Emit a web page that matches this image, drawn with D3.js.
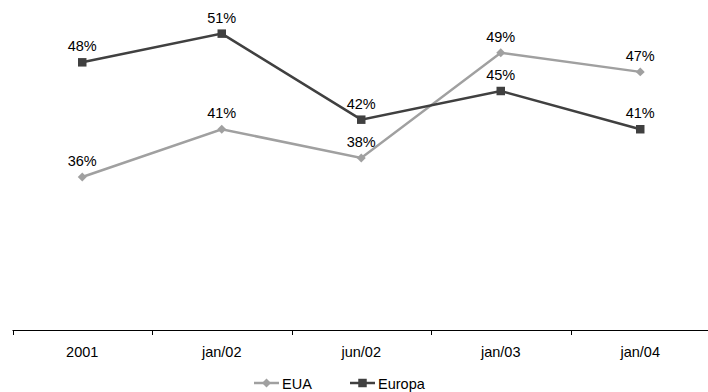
<!DOCTYPE html>
<html>
<head>
<meta charset="utf-8">
<script src="https://cdn.jsdelivr.net/npm/d3@7"></script>
<style>
  html, body { margin: 0; padding: 0; background: #fff; }
  svg { display: block; font-family: "Liberation Sans", Arial, sans-serif; }
</style>
</head>
<body>
<svg id="chart" width="708" height="392"></svg>
<script>
// Periods on the category axis
const categories = ["2001", "jan/02", "jun/02", "jan/03", "jan/04"];
// Percentages per region
const euaValues = [36, 41, 38, 49, 47];
const europaValues = [48, 51, 42, 45, 41];

const seriesNames = ["EUA", "Europa"];
const seriesColors = ["#a0a0a0", "#404040"];

const svg = d3.select("#chart");
const fontSize = 14.5;

const x = d3.scaleBand().domain(categories).range([12.5, 710]);
const y = d3.scaleLinear().domain([20, 50]).range([330, 43.2]);

// Square diamond (rotated square) marker
const diamond = {
  draw(ctx, size) {
    const r = Math.sqrt(size / 2);
    ctx.moveTo(0, -r);
    ctx.lineTo(r, 0);
    ctx.lineTo(0, r);
    ctx.lineTo(-r, 0);
    ctx.closePath();
  }
};

const series = [
  { name: seriesNames[0], values: euaValues, color: seriesColors[0], marker: diamond, size: 40 },
  { name: seriesNames[1], values: europaValues, color: seriesColors[1], marker: d3.symbolSquare, size: 72 }
];

// Category axis along the bottom, ticks between categories
const axisG = svg.append("g").attr("transform", "translate(0,330)");
axisG.append("line")
  .attr("x1", 12.5).attr("x2", 708)
  .attr("y1", 0.5).attr("y2", 0.5)
  .attr("stroke", "#000").attr("stroke-width", 1);
const bounds = categories.map(c => x(c)).concat([x(categories[categories.length - 1]) + x.bandwidth()]);
axisG.selectAll("line.tick")
  .data(bounds)
  .join("line")
  .attr("class", "tick")
  .attr("x1", d => Math.round(d) + 0.5).attr("x2", d => Math.round(d) + 0.5)
  .attr("y1", 0).attr("y2", 5)
  .attr("stroke", "#000");
axisG.selectAll("text")
  .data(categories)
  .join("text")
  .attr("x", d => x(d) + x.bandwidth() / 2)
  .attr("y", 27)
  .attr("text-anchor", "middle")
  .attr("font-size", fontSize)
  .attr("fill", "#000")
  .text(d => d);

const cx = (i) => x(categories[i]) + x.bandwidth() / 2;

const line = d3.line()
  .x((d, i) => cx(i))
  .y(d => y(d));

series.forEach(s => {
  const g = svg.append("g");
  g.append("path")
    .datum(s.values)
    .attr("d", line)
    .attr("fill", "none")
    .attr("stroke", s.color)
    .attr("stroke-width", 2.5);
  g.selectAll("path.mark")
    .data(s.values)
    .join("path")
    .attr("class", "mark")
    .attr("transform", (d, i) => `translate(${cx(i)},${y(d)})`)
    .attr("d", d3.symbol().type(s.marker).size(s.size))
    .attr("fill", s.color);
  g.selectAll("text")
    .data(s.values)
    .join("text")
    .attr("x", (d, i) => cx(i))
    .attr("y", d => y(d) - 11)
    .attr("text-anchor", "middle")
    .attr("font-size", fontSize)
    .attr("fill", "#000")
    .text(d => d + "%");
});

// Legend
const legendItems = [
  { s: series[0], x0: 254 },
  { s: series[1], x0: 350 }
];
const legendY = 383;
legendItems.forEach(({ s, x0 }) => {
  const g = svg.append("g");
  g.append("line")
    .attr("x1", x0).attr("x2", x0 + 25)
    .attr("y1", legendY).attr("y2", legendY)
    .attr("stroke", s.color).attr("stroke-width", 2.5);
  g.append("path")
    .attr("transform", `translate(${x0 + 12.5},${legendY})`)
    .attr("d", d3.symbol().type(s.marker).size(s.size))
    .attr("fill", s.color);
  g.append("text")
    .attr("x", x0 + 28)
    .attr("y", legendY + 5.5)
    .attr("font-size", fontSize)
    .attr("fill", "#000")
    .text(s.name);
});
</script>
</body>
</html>
